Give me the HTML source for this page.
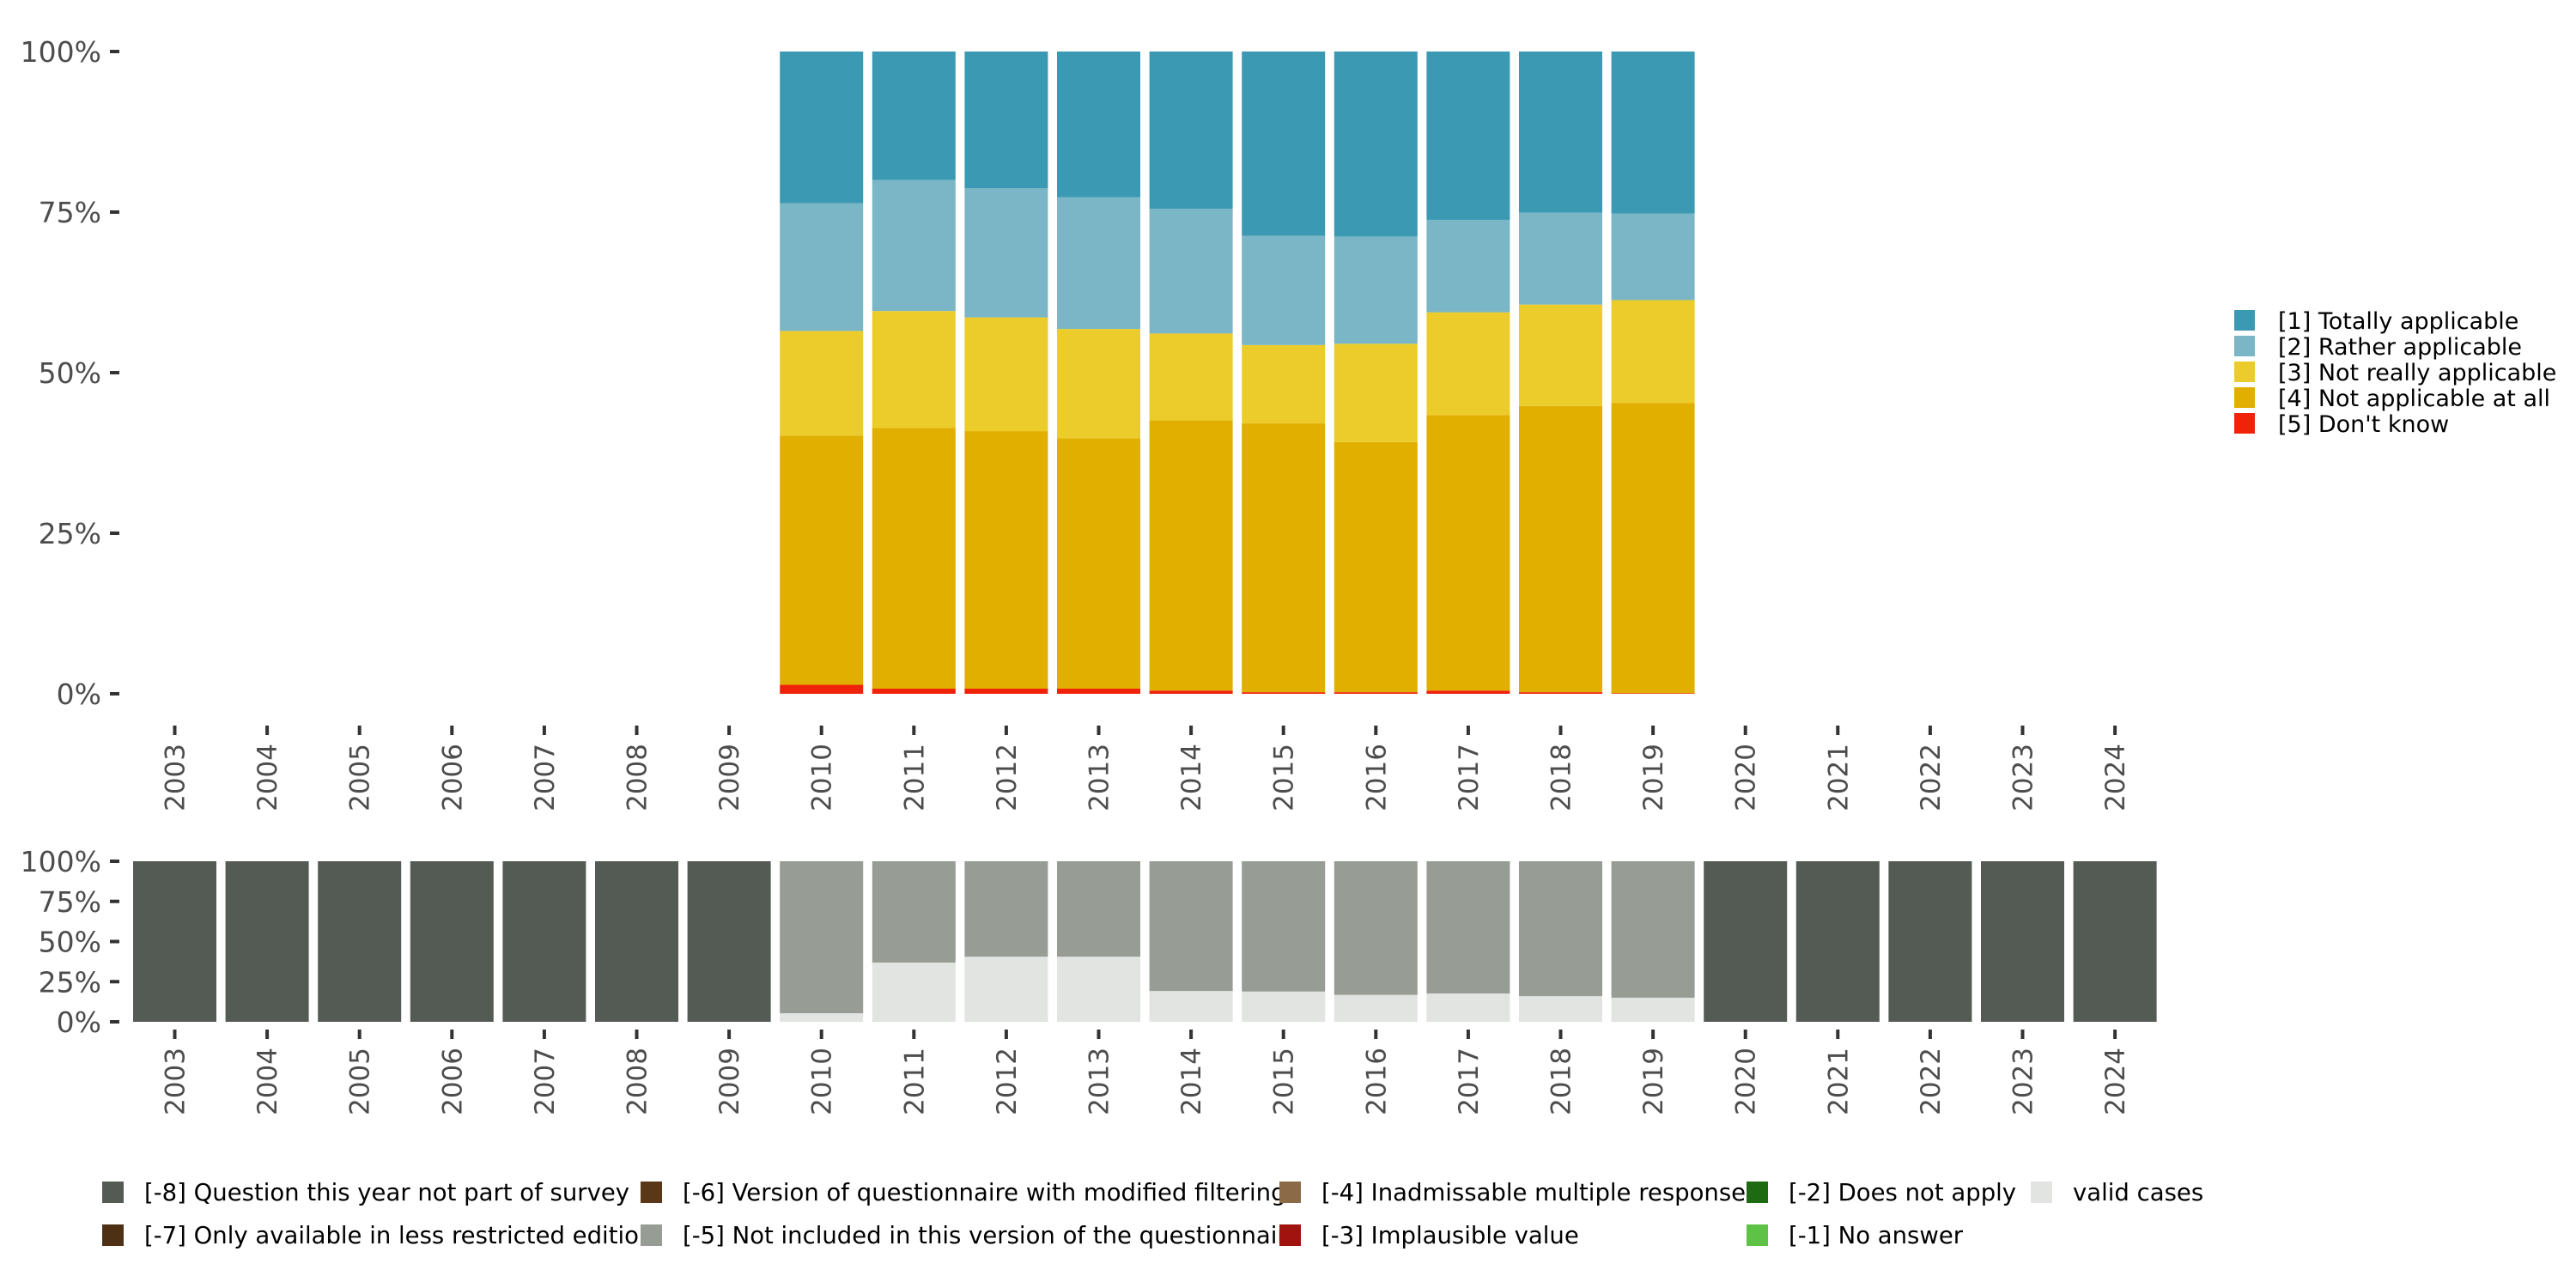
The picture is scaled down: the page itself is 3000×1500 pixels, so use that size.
<!DOCTYPE html>
<html><head><meta charset="utf-8">
<style>
html,body{margin:0;padding:0;background:#fff;}
svg{display:block;font-family:"DejaVu Sans","Liberation Sans",sans-serif;}
</style></head>
<body>
<svg id="chart" width="3000" height="1500" viewBox="0 0 3000 1500" xmlns="http://www.w3.org/2000/svg"></svg>
<script>
const years = [2003,2004,2005,2006,2007,2008,2009,2010,2011,2012,2013,2014,2015,2016,2017,2018,2019,2020,2021,2022,2023,2024];
const dataYears = [2010,2011,2012,2013,2014,2015,2016,2017,2018,2019];
const dontKnow   = [1.4,0.8,0.8,0.8,0.5,0.25,0.25,0.5,0.25,0.1];
const notAtAll   = [38.8,40.6,40.1,39.0,42.1,41.85,38.95,42.9,44.55,45.2];
const notReally  = [16.3,18.2,17.7,17.0,13.5,12.2,15.3,16.0,15.8,16.0];
const rather     = [19.9,20.4,20.1,20.5,19.4,17.0,16.7,14.4,14.3,13.5];
const totally    = [23.6,20.0,21.3,22.7,24.5,28.7,28.8,26.2,25.1,25.2];
const validShare = [5.3,36.9,40.5,40.5,19.1,18.8,16.7,17.6,15.9,15.0];
const yTicks = [0,25,50,75,100];
const yTickLabels = ["0%","25%","50%","75%","100%"];
const topLegend = ["[1] Totally applicable","[2] Rather applicable","[3] Not really applicable","[4] Not applicable at all","[5] Don't know"];
const botLegend = ["[-8] Question this year not part of survey","[-7] Only available in less restricted edition","[-6] Version of questionnaire with modified filtering","[-5] Not included in this version of the questionnaire","[-4] Inadmissable multiple response","[-3] Implausible value","[-2] Does not apply","[-1] No answer","valid cases"];

const svg = document.getElementById('chart');
const NS = 'http://www.w3.org/2000/svg';
function mk(tag, attrs, text){const e=document.createElementNS(NS,tag);for(const k in attrs)e.setAttribute(k,attrs[k]);if(text!==undefined)e.textContent=text;svg.appendChild(e);return e;}

const x = y => 203.5 + (y-2003)*107.6;
const BW = 97;
const yTop = v => 808 - v/100*748;
const yBot = v => 1190 - v/100*187;

const segCols = ['#F0230A','#E0AF00','#ECCC2A','#7AB6C5','#3C99B3'];
const segNames = ['dont-know','not-applicable-at-all','not-really-applicable','rather-applicable','totally-applicable'];
const series = [dontKnow,notAtAll,notReally,rather,totally];

yTicks.forEach((t,i)=>{
  const yy=yTop(t);
  let e=mk('line',{x1:128,x2:139,y1:yy,y2:yy,stroke:'#333','stroke-width':4});
  
  e=mk('text',{x:118,y:yy+12,'text-anchor':'end','font-size':33,fill:'#4d4d4d'},yTickLabels[i]);
  
});
dataYears.forEach((yr,i)=>{
  let cum=0;
  series.forEach((s,k)=>{
    const v=s[i];
    const r=mk('rect',{x:x(yr)-BW/2,y:yTop(cum+v),width:BW,height:yTop(cum)-yTop(cum+v),fill:segCols[k]});
    
    
    cum+=v;
  });
});
years.forEach(yr=>{
  let e=mk('line',{x1:x(yr),x2:x(yr),y1:845,y2:856,stroke:'#333','stroke-width':4});
  
  e=mk('text',{x:0,y:0,'text-anchor':'end','font-size':31,fill:'#4d4d4d',transform:`translate(${x(yr)+11},866) rotate(-90)`},String(yr));
  
});
topLegend.forEach((t,i)=>{
  let e=mk('rect',{x:2602,y:361+i*30,width:24,height:24,fill:segCols[4-i]});
  
  e=mk('text',{x:2653,y:383+i*30,'font-size':27,fill:'#000'},t);
  
});

yTicks.forEach((t,i)=>{
  const yy=yBot(t);
  let e=mk('line',{x1:128,x2:139,y1:yy,y2:yy,stroke:'#333','stroke-width':4});
  
  e=mk('text',{x:118,y:yy+12,'text-anchor':'end','font-size':33,fill:'#4d4d4d'},yTickLabels[i]);
  
});
years.forEach(yr=>{
  const di=dataYears.indexOf(yr);
  if(di<0){
    const r=mk('rect',{x:x(yr)-BW/2,y:yBot(100),width:BW,height:yBot(0)-yBot(100),fill:'#545B55'});
    
    
  } else {
    const v=validShare[di];
    let r=mk('rect',{x:x(yr)-BW/2,y:yBot(100),width:BW,height:yBot(v)-yBot(100),fill:'#979C95'});
    
    
    r=mk('rect',{x:x(yr)-BW/2,y:yBot(v),width:BW,height:yBot(0)-yBot(v),fill:'#E1E4E0'});
    
    
  }
});
years.forEach(yr=>{
  let e=mk('line',{x1:x(yr),x2:x(yr),y1:1199,y2:1210,stroke:'#333','stroke-width':4});
  
  e=mk('text',{x:0,y:0,'text-anchor':'end','font-size':31,fill:'#4d4d4d',transform:`translate(${x(yr)+11},1220) rotate(-90)`},String(yr));
  
});
const botCols = ['#545B55','#4E3015','#5A3716','#979C95','#8B6A48','#A0130F','#1D6A12','#5DC245','#E1E4E0'];
const colX = [119,746,1490,2034,2365];
botLegend.forEach((t,i)=>{
  const col=Math.floor(i/2), row=i%2;
  const ky = row===0?1376:1426;
  let e=mk('rect',{x:colX[col],y:ky,width:25,height:25,fill:botCols[i]});
  
  e=mk('text',{x:colX[col]+49,y:ky+22,'font-size':27.5,fill:'#000'},t);
  
});
</script>
</body></html>
